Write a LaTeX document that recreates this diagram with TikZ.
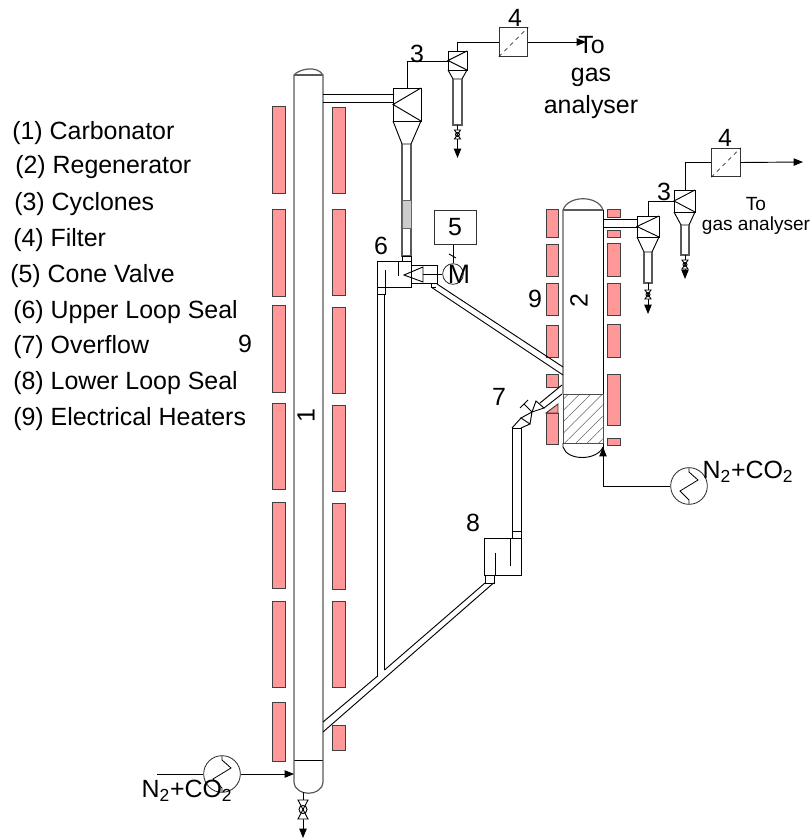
\documentclass[tikz,border=0pt]{standalone}
\usepackage{fontspec}
\setmainfont{Liberation Sans}
\usetikzlibrary{arrows.meta,patterns.meta}
\tikzset{
    tagtext/.style={inner sep=0pt,font=\fontsize{18.7}{22}\selectfont},
    smalltext/.style={inner sep=0pt,font=\fontsize{14.3}{17}\selectfont},
    heater/.style={draw=black!75,fill=red!40,line width=0.7pt},
    pipeline/.style={draw=black,line width=0.7pt},
    grayline/.style={draw=black!65,line width=0.9pt},
    filterbox/.style={draw=black!80,line width=0.7pt,minimum size=21.4pt,inner sep=0pt},
    exchanger/.style={circle,draw=black!85,line width=0.6pt,minimum size=27.5pt,inner sep=0pt},
    flowarrow/.style={pipeline,-{Triangle[length=7pt,width=5.5pt]}}
}
\begin{document}
\begin{tikzpicture}[x=0.75pt,y=-0.75pt]
    \useasboundingbox (0,0) rectangle (811,838);
    % heaters of column 1
    \foreach \a/\b in {106/193,209/296,305/392,403/489,502/588,601/687,702/761}
        \draw[heater] (272,\a) rectangle (285,\b);
    \foreach \a/\b in {107/193,209/295,307/393,405/491,503/589,601/687,725/750}
        \draw[heater] (332,\a) rectangle (345,\b);
    % heaters of column 2
    \foreach \a/\b in {209/237,244/276,283/315,325/357,374/387,413/444}
        \draw[heater] (546,\a) rectangle (558,\b);
    \foreach \a/\b in {209/217,230/237,243/276,283/315,324/357,374/425,438/445}
        \draw[heater] (607,\a) rectangle (620,\b);
    \draw[heater] (546,413) -- (558,404) -- (558,413) -- cycle;
    % column 1
    \draw[grayline] (294,760) -- (294,75) .. controls (299,69) and (317,65) .. (323,75) -- (323,760);
    \draw[grayline] (294,75) -- (323,75);
    \draw[pipeline] (294,760) -- (323,760);
    \draw[grayline] (294,760) -- (294,782) .. controls (295,797) and (322,797) .. (323,782) -- (323,760);
    \node[tagtext,rotate=90] (one) at (306,416) {1};
    % column 2
    \draw[grayline] (563,394) -- (563,210) .. controls (568,195) and (598,195) .. (603,210);
    \draw[pipeline] (603,210) -- (603,486);
    \draw[grayline] (563,210) -- (603,210);
    \draw[pattern={Lines[angle=45,distance=6pt,line width=0.4pt]},pattern color=black!60,draw=black!70] (563,394) rectangle (603,443);
    \draw[pipeline] (563,443) -- (563,447) .. controls (567,461) and (597,461) .. (603,447);
    \node[tagtext,rotate=90] (two) at (579,301) {2};
    % cyclones
    \foreach \xa/\xb/\xc/\xd/\ya/\yb/\yc/\yd in {393/421/402/411/88/121/144/256,448/467/453/462/51/70/79/125,637/659/644/652/216/237/252/283,674/695/681/689/190/212/225/255} {
        \draw[pipeline] (\xa,\ya) rectangle (\xb,\yb);
        \draw[pipeline] (\xb,\ya) -- (\xa,{(\ya+\yb)/2}) -- (\xb,\yb);
        \draw[pipeline] (\xa,\yb) -- (\xc,\yc) -- (\xd,\yc) -- (\xb,\yb);
        \draw[grayline] (\xc,\yc) -- (\xc,\yd) -- (\xd,\yd) -- (\xd,\yc);
    }
    % discharge valves
    \foreach \x/\y/\v/\w/\h/\r/\e in {457.5/125/5/3/9/2/33,648/283/7/3/9/2/31,685/255/5/3/9/2/24,303/792/8/5/19/4/46} {
        \draw[flowarrow] (\x,\y) -- (\x,\y+\e);
        \draw[pipeline,fill=white] (\x-\w,\y+\v) -- (\x+\w,\y+\v+\h) -- (\x-\w,\y+\v+\h) -- (\x+\w,\y+\v) -- cycle;
        \draw[pipeline] (\x,\y+\v+\h/2) circle (\r);
    }
    % gas ducts
    \draw[pipeline] (323,94) -- (393,94) (323,102) -- (393,102);
    \draw[pipeline] (603,219) -- (637,219) (603,227) -- (637,227);
    \draw[draw=black!60,fill=black!20,line width=0.7pt] (402,200) rectangle (411,228);
    % filters and gas lines
    \node[filterbox] (filterA) at (513.5,42) {};
    \node[filterbox] (filterB) at (726,162.5) {};
    \coordinate (outA) at (586,42);
    \coordinate (outB) at (803,162);
    \draw[pipeline] (407,88) |- (448,61);
    \draw[pipeline] (457.5,51) |- (filterA.west);
    \draw[flowarrow] (filterA.east) -- (outA);
    \draw[pipeline] (648,216) |- (674,201);
    \draw[pipeline] (685,190) |- (filterB.west);
    \draw[flowarrow] (filterB.east) -- (outB);
    \foreach \n in {filterA,filterB}
        \draw[dashed,line width=0.4pt] (\n.south west) -- (\n.north east);
    % upper loop seal
    \draw[pipeline] (402,256) rectangle (411,261);
    \draw[pipeline] (377,261) rectangle (411,287);
    \draw[pipeline] (398,261) -- (398,276);
    \draw[pipeline] (385,270) -- (385,287);
    \draw[pipeline] (377,287) rectangle (385,294);
    \draw[pipeline] (404,275) -- (423,267) -- (423,282) -- cycle;
    \draw[pipeline] (412,265) -- (437,265) -- (437,283) -- (412,283);
    \draw[pipeline] (431,283) -- (431,287) -- (436,287);
    % cone valve drive
    \node[draw=black!80,line width=0.7pt,minimum width=31.5pt,minimum height=25pt,inner sep=0pt,tagtext] (valvebox) at (455,227.5) {5};
    \node[circle,draw=black!85,line width=0.6pt,minimum size=15.5pt,inner sep=0pt] (motor) at (453,274) {};
    \node[tagtext,font=\fontsize{20}{22}\selectfont] (motorM) at (459,274) {M};
    \draw[pipeline] (423,274) -- (motor.west);
    \draw[pipeline] (valvebox.south -| motor) -- (motor.north);
    \draw[pipeline] (449,254) -- (456,258);
    % downcomer to riser
    \draw[pipeline] (377,294) -- (377,676.5) (384.5,294) -- (384.5,670);
    \draw[pipeline] (323,722) -- (377,676.5) (384.5,670) -- (485,583) (323,732) -- (493.5,583);
    \draw[pipeline] (431,287) -- (563,375) (437,284) -- (563,367);
    % lower loop seal
    \draw[pipeline] (484,538) rectangle (521,575);
    \draw[pipeline] (485,575) rectangle (494,583);
    \draw[pipeline] (495,553) -- (495,575);
    \draw[pipeline] (510.5,538) -- (510.5,566);
    \draw[pipeline] (512,531) rectangle (521,538);
    \draw[pipeline] (512,531) -- (512,428) -- (521,428) -- (521,531);
    % overflow valve
    \draw[pipeline] (512,428) -- (521,418) (521,428) -- (530,424);
    \draw[pipeline,fill=white] (532,412) -- (521,418) -- (530,424) -- cycle;
    \draw[pipeline,fill=white] (532,412) -- (536,401) -- (544,408) -- cycle;
    \draw[pipeline] (532,412) -- (524,404) (520,408) -- (528,400);
    \draw[pipeline] (540,403) -- (562,385) (544,408) -- (562,394);
    % exchangers
    \node[exchanger] (heatA) at (222,774) {};
    \node[exchanger] (heatB) at (689,486) {};
    \coordinate (inA) at (157,774);
    \coordinate (inB) at (294,774);
    \coordinate (inC) at (603,447);
    \foreach \n in {heatA,heatB}
        \draw[pipeline,line width=0.6pt,shift={(\n)}] (0,-18) -- (0,-14) -- (9,-6) -- (-9,5) -- (0,14) -- (0,18);
    \draw[pipeline] (inA) -- (heatA.west);
    \draw[flowarrow] (heatA.east) -- (inB);
    \draw[flowarrow] (heatB.west) -| (inC);
    % legend
    \foreach \x/\y/\t in {12/140/(1) Carbonator,15/174/(2) Regenerator,14/210/(3) Cyclones,13/246/(4) Filter,10/282/(5) Cone Valve,13/318/(6) Upper Loop Seal,13/353/(7) Overflow,13/389/(8) Lower Loop Seal,13/425/(9) Electrical Heaters}
        \node[tagtext,anchor=base west] at (\x,\y) {\t};
    % numbers
    \foreach \x/\y/\t in {515/18/4,417/54/3,381/246/6,245/344/9,535/299/9,499/397/7,473/523/8,725/138/4,664/192/3}
        \node[tagtext] at (\x,\y) {\t};
    \node[tagtext,anchor=base west] (toA) at (578,54) {To};
    \node[tagtext] (gasA) at (591,77) {gas};
    \node[tagtext] (analyserA) at (591,107) {analyser};
    \node[smalltext] (toB) at (756,204) {To};
    \node[smalltext] (gasB) at (756,226) {gas analyser};
    \node[tagtext] (feedA) at (187,791) {N\textsubscript{2}+CO\textsubscript{2}};
    \node[tagtext] (feedB) at (748,472) {N\textsubscript{2}+CO\textsubscript{2}};
\end{tikzpicture}
\end{document}
